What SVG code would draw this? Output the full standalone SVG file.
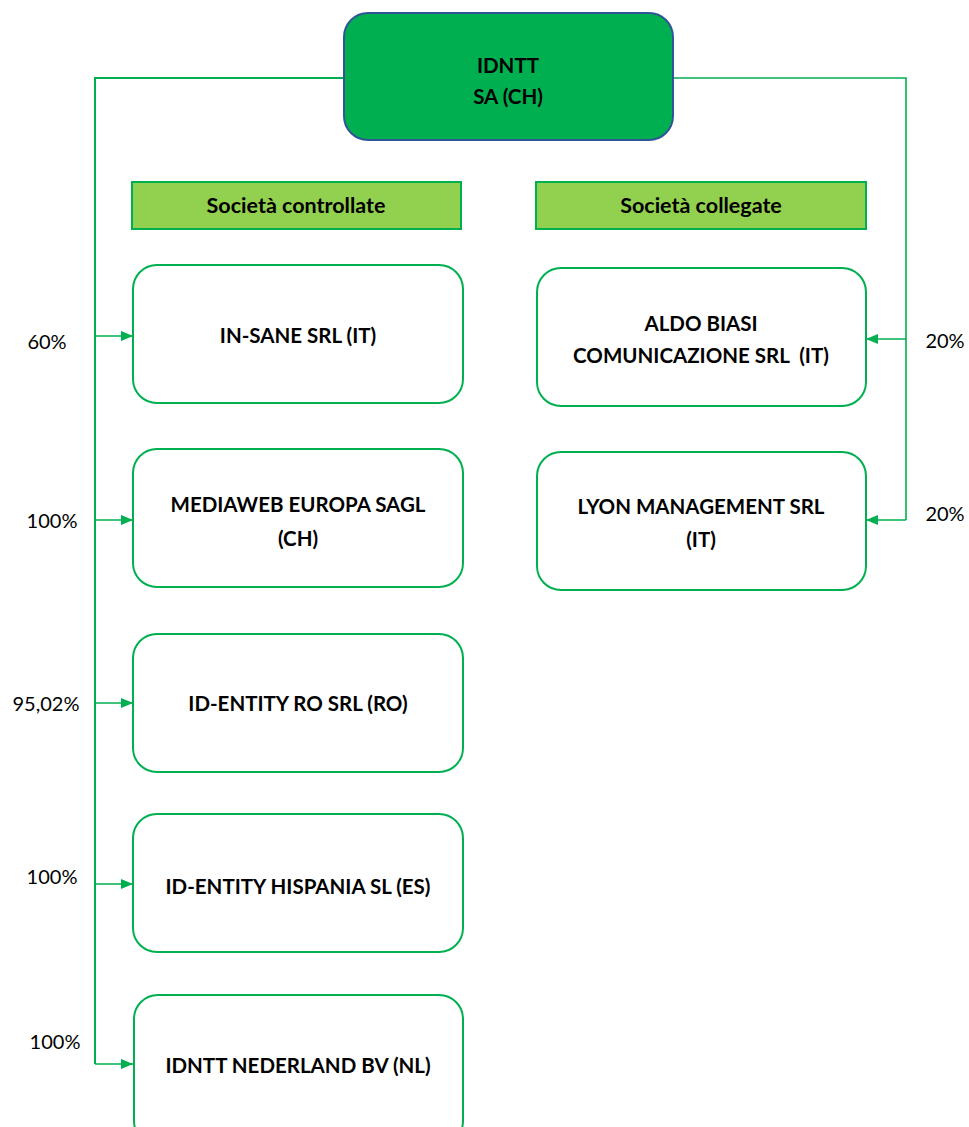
<svg xmlns="http://www.w3.org/2000/svg" width="969" height="1127" viewBox="0 0 969 1127">
<style>
.box{fill:#fff;stroke:#00b050;stroke-width:2}
.hdr{fill:#92d050;stroke:#00b050;stroke-width:2}
.t{font-family:Lato,"Liberation Sans",sans-serif;font-weight:bold;font-size:20.5px;fill:#000;text-anchor:middle}
.h{font-size:21.5px}
.p{font-family:Lato,"Liberation Sans",sans-serif;font-size:20px;fill:#000;text-anchor:middle}
.ln{fill:none;stroke:#00b050;stroke-width:1.6}
</style>
<defs>
<marker id="ar" viewBox="0 0 12 10" refX="12" refY="5" markerWidth="12" markerHeight="10" markerUnits="userSpaceOnUse" orient="auto">
<path d="M0,0 L12,5 L0,10 Z" fill="#00b050"/>
</marker>
</defs>
<g id="connectors">
<path class="ln" d="M344,78 H95 V1064" style="stroke-width:2"/>
<path class="ln" d="M95,336 H133" marker-end="url(#ar)"/>
<path class="ln" d="M95,520 H133" marker-end="url(#ar)"/>
<path class="ln" d="M95,703 H133" marker-end="url(#ar)"/>
<path class="ln" d="M95,884 H133" marker-end="url(#ar)"/>
<path class="ln" d="M95,1064 H133" marker-end="url(#ar)"/>
<path class="ln" d="M673,78 H906 V520"/>
<path class="ln" d="M906,339 H866" marker-end="url(#ar)"/>
<path class="ln" d="M906,520 H866" marker-end="url(#ar)"/>
</g>
<g id="root">
<rect x="344" y="13" width="329" height="127" rx="24" fill="#00b050" stroke="#2f5597" stroke-width="2"/>
<text class="t" x="508" y="73">IDNTT</text>
<text class="t" x="508" y="104">SA (CH)</text>
</g>
<g id="hdr-controllate">
<rect class="hdr" x="132" y="182" width="329" height="47"/>
<text class="t h" x="296" y="213">Società controllate</text>
</g>
<g id="hdr-collegate">
<rect class="hdr" x="536" y="182" width="330" height="47"/>
<text class="t h" x="701" y="213">Società collegate</text>
</g>
<g id="n-insane">
<rect class="box" x="133" y="265" width="330" height="138" rx="24"/>
<text class="t" x="298" y="343">IN-SANE SRL (IT)</text>
</g>
<g id="n-mediaweb">
<rect class="box" x="133" y="449" width="330" height="138" rx="24"/>
<text class="t" x="298" y="512">MEDIAWEB EUROPA SAGL</text>
<text class="t" x="298" y="546">(CH)</text>
</g>
<g id="n-identity-ro">
<rect class="box" x="133" y="634" width="330" height="138" rx="24"/>
<text class="t" x="298" y="711">ID-ENTITY RO SRL (RO)</text>
</g>
<g id="n-hispania">
<rect class="box" x="133" y="814" width="330" height="138" rx="24"/>
<text class="t" x="298" y="894">ID-ENTITY HISPANIA SL (ES)</text>
</g>
<g id="n-nederland">
<rect class="box" x="134" y="995" width="329" height="150" rx="24"/>
<text class="t" x="298" y="1073">IDNTT NEDERLAND BV (NL)</text>
</g>
<g id="n-aldo">
<rect class="box" x="537" y="268" width="329" height="138" rx="24"/>
<text class="t" x="701" y="331">ALDO BIASI</text>
<text class="t" x="701" y="363">COMUNICAZIONE SRL&#160; (IT)</text>
</g>
<g id="n-lyon">
<rect class="box" x="537" y="452" width="329" height="138" rx="24"/>
<text class="t" x="701" y="514">LYON MANAGEMENT SRL</text>
<text class="t" x="701" y="547">(IT)</text>
</g>
<g id="labels">
<text class="p" x="47" y="349">60%</text>
<text class="p" x="52" y="528">100%</text>
<text class="p" x="46" y="711">95,02%</text>
<text class="p" x="52" y="884">100%</text>
<text class="p" x="55" y="1049">100%</text>
<text class="p" x="945" y="348">20%</text>
<text class="p" x="945" y="521">20%</text>
</g>
</svg>
